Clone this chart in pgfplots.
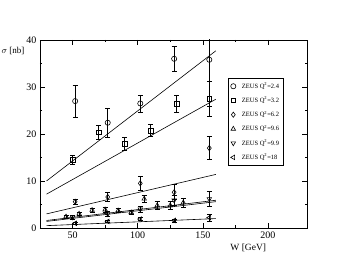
\documentclass[border=0pt]{standalone}
\usepackage{fontspec}
\setmainfont{Liberation Serif}
\usepackage{pgfplots}
\pgfplotsset{compat=1.18}
\newcommand{\zeuslg}[1]{\hspace{4pt}ZEUS Q\textsuperscript{2}=#1}
\begin{document}
\begin{tikzpicture}[x=1pt,y=1pt]
\begin{axis}[name=ax,
  scale only axis, width=267pt, height=188pt,
  xmin=25, xmax=230, ymin=0, ymax=40,
  xtick={50,100,150,200}, ytick={0,10,20,30,40},
  minor x tick num=1, minor y tick num=1,
  tick align=inside, major tick length=5pt, minor tick length=2.5pt,
  tick style={black, line width=0.5pt},
  axis line style={line width=0.6pt},
  ticklabel style={font=\fontsize{10}{10}\selectfont},
  /pgf/number format/assume math mode=true,
  xlabel={W [GeV]}, ylabel={$\sigma$ [nb]},
  xlabel style={font=\fontsize{9.5}{10}\selectfont, at={(rel axis cs:0.78,0)}, anchor=north, yshift=-12pt},
  ylabel style={font=\fontsize{9}{10}\selectfont, rotate=-90, at={(rel axis cs:0,0.94)}, anchor=east, xshift=-12pt},
  legend style={at={(rel axis cs:0.704,0.798)}, anchor=north west, font=\fontsize{6.5}{8}\selectfont, draw=black, line width=0.5pt, row sep=3.2pt, inner sep=2.5pt},
  legend cell align=left,
  error bars/error bar style={black, line width=0.7pt},
  error bars/error mark options={black, rotate=90, mark size=2.5pt, line width=0.7pt},
]
% circles Q2=2.4
\addplot[black, line width=0.6pt, only marks, mark=o, mark size=2.6pt, error bars/.cd, y dir=both, y explicit]
 coordinates {(52,27) +- (0,3.45) (77,22.4) +- (0,3.05) (102,26.5) +- (0,1.8) (128,36) +- (0,2.65) (155,35.8) +- (0,10)};
\addlegendentry{\zeuslg{2.4}}
% squares Q2=3.2
\addplot[black, line width=0.6pt, only marks, mark=square, mark size=2.3pt, error bars/.cd, y dir=both, y explicit]
 coordinates {(50,14.5) +- (0,1.05) (70,20.4) +- (0,1.5) (90,17.9) +- (0,1.3) (110,20.7) +- (0,1.25) (130,26.4) +- (0,1.85) (155,27.5) +- (0,3.75)};
\addlegendentry{\zeuslg{3.2}}
% diamonds Q2=6.2
\addplot[black, line width=0.6pt, only marks, mark=diamond, mark size=2.6pt, error bars/.cd, y dir=both, y explicit]
 coordinates {(52,5.6) +- (0,0.6) (77,6.6) +- (0,0.95) (102,9.5) +- (0,1.4) (128,7.6) +- (0,1.6) (155,17) +- (0,2.45)};
\addlegendentry{\zeuslg{6.2}}
% triangles up Q2=9.6
\addplot[black, line width=0.6pt, only marks, mark=triangle, mark size=2.6pt, error bars/.cd, y dir=both, y explicit]
 coordinates {(45,2.4) +- (0,0.3) (55,3.0) +- (0,0.4) (65,3.8) +- (0,0.4) (75,3.9) +- (0,0.5) (85,3.7) +- (0,0.4) (95,3.3) +- (0,0.5) (105,6.2) +- (0,0.8) (115,4.8) +- (0,0.8) (125,4.8) +- (0,0.9) (135,5.4) +- (0,1.0)};
\addlegendentry{\zeuslg{9.6}}
% triangles down Q2=9.9
\addplot[black, line width=0.6pt, only marks, mark=triangle, mark options={rotate=180}, mark size=2.6pt, error bars/.cd, y dir=both, y explicit]
 coordinates {(50,2.3) +- (0,0.4) (77,3.0) +- (0,0.6) (102,4.0) +- (0,0.7) (128,5.9) +- (0,1.0) (155,6.2) +- (0,1.5)};
\addlegendentry{\zeuslg{9.9}}
% triangles left Q2=18
\addplot[black, line width=0.6pt, only marks, mark=triangle, mark options={rotate=90}, mark size=2.6pt, error bars/.cd, y dir=both, y explicit]
 coordinates {(52,1.0) +- (0,0.3) (77,1.4) +- (0,0.3) (102,1.9) +- (0,0.3) (128,1.6) +- (0,0.3) (155,2.2) +- (0,0.8)};
\addlegendentry{\zeuslg{18}}
% fit lines
\addplot[black, line width=0.6pt, forget plot] coordinates {(30,10.0) (160,37.7)};
\addplot[black, line width=0.6pt, forget plot] coordinates {(30,7.2) (160,27.4)};
\addplot[black, line width=0.6pt, forget plot] coordinates {(30,3.0) (160,11.4)};
\addplot[black, line width=0.6pt, forget plot] coordinates {(30,1.4) (160,5.6)};
\addplot[black, line width=0.6pt, forget plot] coordinates {(30,1.6) (160,5.9)};
\addplot[black, line width=0.6pt, forget plot] coordinates {(30,0.5) (160,2.0)};
\end{axis}
\pgfresetboundingbox
\path ([xshift=-40pt,yshift=-40pt]ax.south west) rectangle ([xshift=39pt,yshift=40pt]ax.north east);
\end{tikzpicture}
\end{document}
